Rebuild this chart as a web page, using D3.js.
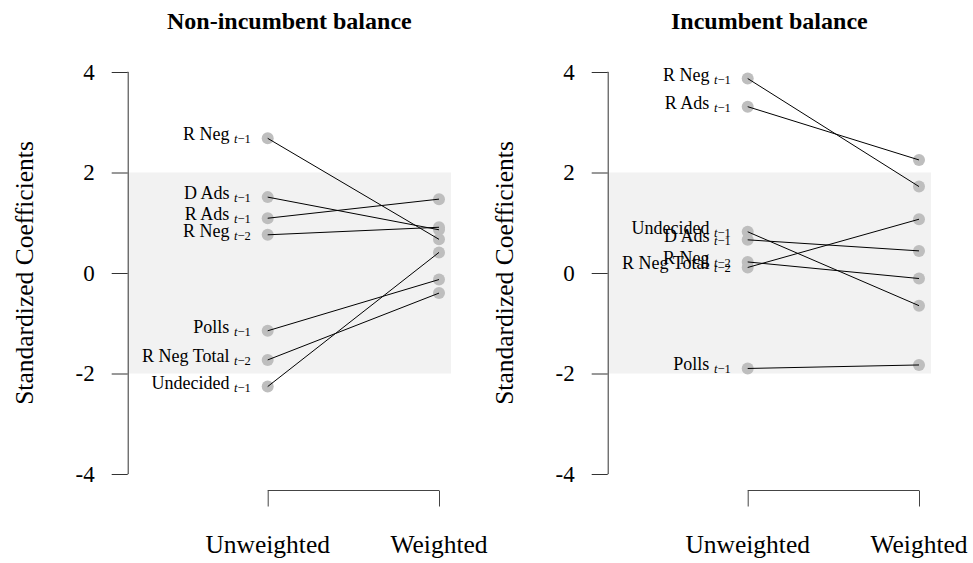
<!DOCTYPE html>
<html>
<head>
<meta charset="utf-8">
<script src="https://cdn.jsdelivr.net/npm/d3@7"></script>
<style>
  body { margin: 0; background: #fff; }
</style>
</head>
<body>
<div id="chart"></div>
<script>
const width = 973;
const height = 563;
const serif = "'Liberation Serif', 'DejaVu Serif', serif";

// data
const groups = ["Unweighted", "Weighted"];
const yTicks = [-4, -2, 0, 2, 4];

const nonIncLabels = ["R Neg", "D Ads", "R Ads", "R Neg", "Polls", "R Neg Total", "Undecided"];
const nonIncLags = ["t−1", "t−1", "t−1", "t−2", "t−1", "t−2", "t−1"];
const nonIncUnweighted = [2.68, 1.51, 1.09, 0.76, -1.15, -1.73, -2.26];
const nonIncWeighted = [0.67, 0.86, 1.47, 0.91, -0.13, -0.40, 0.41];

const incLabels = ["R Neg", "R Ads", "Undecided", "D Ads", "R Neg", "R Neg Total", "Polls"];
const incLags = ["t−1", "t−1", "t−1", "t−1", "t−2", "t−2", "t−1"];
const incUnweighted = [3.87, 3.31, 0.82, 0.66, 0.22, 0.11, -1.90];
const incWeighted = [1.72, 2.25, -0.65, 0.44, -0.11, 1.07, -1.83];

const svg = d3.select("#chart").append("svg")
  .attr("width", width)
  .attr("height", height)
  .attr("font-family", serif);

const y = d3.scaleLinear().domain([-4, 4]).range([474, 72]);

function drawPanel(opts) {
  const { title, axisX, x0, x1, labels, lags, unw, wtd } = opts;
  const x = d3.scalePoint().domain(groups).range([x0, x1]);
  const g = svg.append("g");

  // grey band for +/- 2
  g.append("rect")
    .attr("x", axisX)
    .attr("y", y(2))
    .attr("width", x("Weighted") + 12 - axisX)
    .attr("height", y(-2) - y(2))
    .attr("fill", "#f2f2f2");

  // title
  g.append("text")
    .attr("x", (axisX + x("Weighted") + 12) / 2)
    .attr("y", 29)
    .attr("text-anchor", "middle")
    .style("font-family", serif)
    .style("font-size", "24px")
    .style("font-weight", "bold")
    .text(title);

  // y axis
  const yAxis = d3.axisLeft(y).tickValues(yTicks).tickSize(16).tickPadding(17)
    .tickFormat(d => d < 0 ? "-" + Math.abs(d) : String(d));
  const ya = g.append("g")
    .attr("transform", `translate(${axisX},0)`)
    .call(yAxis)
    .attr("font-family", serif)
    .attr("font-size", 23);
  ya.select(".domain").attr("d", `M0,${y(4)}H0.5V${y(-4)}H0`).attr("stroke", "#333");
  ya.selectAll(".tick line").attr("stroke", "#333");
  ya.selectAll(".tick text")
    .style("font-family", serif)
    .style("font-size", "23px")
    .attr("fill", "#000");

  g.append("text")
    .attr("transform", `translate(${axisX - 95},${y(0)}) rotate(-90)`)
    .attr("text-anchor", "middle")
    .style("font-family", serif)
    .style("font-size", "25.5px")
    .text("Standardized Coefficients");

  // x bracket axis
  const xa = g.append("g")
    .attr("transform", "translate(0,490.5)")
    .call(d3.axisTop(x).tickSize(-16).tickFormat(""));
  xa.select(".domain").remove();
  xa.selectAll(".tick line").attr("stroke", "#444");
  g.append("line")
    .attr("x1", x("Unweighted")).attr("x2", x("Weighted"))
    .attr("y1", 490.5).attr("y2", 490.5)
    .attr("stroke", "#444");

  g.selectAll(".grp")
    .data(groups)
    .enter().append("text")
    .attr("x", d => x(d))
    .attr("y", 553)
    .attr("text-anchor", "middle")
    .style("font-family", serif)
    .style("font-size", "25.5px")
    .text(d => d);

  const rows = labels.map((l, i) => ({ label: l, lag: lags[i], u: unw[i], w: wtd[i] }));

  // points
  g.selectAll(".pu")
    .data(rows)
    .enter().append("circle")
    .attr("cx", x("Unweighted"))
    .attr("cy", d => y(d.u))
    .attr("r", 6)
    .attr("fill", "#bebebe");
  g.selectAll(".pw")
    .data(rows)
    .enter().append("circle")
    .attr("cx", x("Weighted"))
    .attr("cy", d => y(d.w))
    .attr("r", 6)
    .attr("fill", "#bebebe");

  // connecting lines
  g.selectAll(".seg")
    .data(rows)
    .enter().append("line")
    .attr("x1", x("Unweighted"))
    .attr("y1", d => y(d.u))
    .attr("x2", x("Weighted"))
    .attr("y2", d => y(d.w))
    .attr("stroke", "#000")
    .attr("stroke-width", 1);

  // labels
  const lab = g.selectAll(".lab")
    .data(rows)
    .enter().append("text")
    .attr("x", x("Unweighted") - 17)
    .attr("y", d => y(d.u) + 2)
    .attr("text-anchor", "end")
    .style("font-family", serif)
    .style("font-size", "18px");
  lab.append("tspan").text(d => d.label + " ");
  lab.append("tspan")
    .attr("dy", 3)
    .style("font-size", "12.5px")
    .style("font-style", "italic")
    .text(d => d.lag.slice(0, 1));
  lab.append("tspan")
    .style("font-size", "12.5px")
    .text(d => d.lag.slice(1));
}

drawPanel({
  title: "Non-incumbent balance", axisX: 127.7, x0: 267.7, x1: 439,
  labels: nonIncLabels, lags: nonIncLags, unw: nonIncUnweighted, wtd: nonIncWeighted
});

drawPanel({
  title: "Incumbent balance", axisX: 607.7, x0: 747.7, x1: 919,
  labels: incLabels, lags: incLags, unw: incUnweighted, wtd: incWeighted
});
</script>
</body>
</html>
